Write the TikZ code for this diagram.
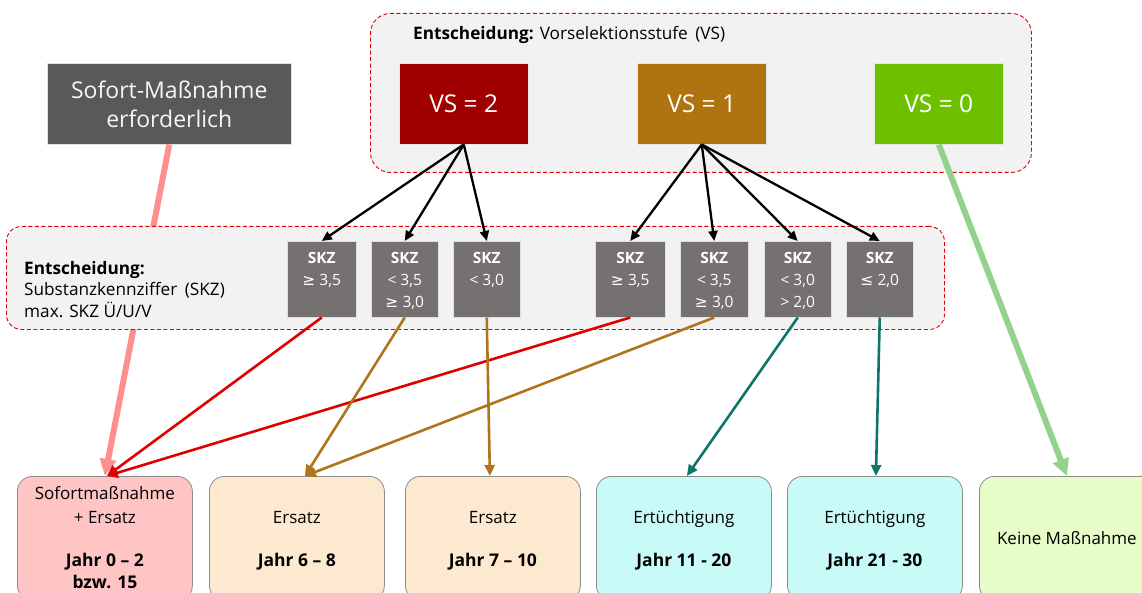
\documentclass[tikz,border=0pt]{standalone}
\usepackage{fontspec}
\setmainfont{Open Sans}
\newfontfamily\symf{DejaVu Sans}
\usetikzlibrary{arrows.meta,calc}
\definecolor{contfill}{HTML}{F2F2F2}
\definecolor{contdash}{HTML}{E00000}
\definecolor{sofgray}{HTML}{595959}
\definecolor{vstwo}{HTML}{A00000}
\definecolor{vsone}{HTML}{AF7310}
\definecolor{vszero}{HTML}{6CC000}
\definecolor{skzgray}{HTML}{767171}
\definecolor{redarr}{HTML}{E00000}
\definecolor{brownarr}{HTML}{B0741A}
\definecolor{tealarr}{HTML}{0E7568}
\definecolor{pinkarr}{HTML}{FF8F8F}
\definecolor{greenarr}{HTML}{92D38C}
\definecolor{bpink}{HTML}{FFC5C5}
\definecolor{bbeige}{HTML}{FCE9CF}
\definecolor{bcyan}{HTML}{C8FAF7}
\definecolor{bgreen}{HTML}{E6FCC9}
\definecolor{bborder}{HTML}{8C8C8C}
\tikzset{
  container/.style={draw=contdash, fill=contfill, dashed, dash pattern=on 4pt off 2.5pt, line width=0.9pt, anchor=north west, inner sep=0pt},
  vsbox/.style={minimum width=129pt, minimum height=81pt, anchor=north west, inner sep=0pt, text=white, font=\fontsize{24.5}{28}\selectfont, draw=white!80!gray, line width=0.5pt},
  skzbox/.style={fill=skzgray, draw=white!75!gray, line width=0.5pt, minimum height=76pt, anchor=north west, inner sep=0pt},
  skztext/.style={text=white, font=\fontsize{15.5}{22}\selectfont, align=center, inner sep=0pt, anchor=north},
  botbox/.style={draw=bborder, line width=0.8pt, rounded corners=15pt, minimum width=175pt, minimum height=124pt, anchor=north west, inner sep=0pt},
  bottext/.style={font=\fontsize{17}{23.5}\selectfont, align=center, inner sep=0pt},
  botbold/.style={font=\bfseries\fontsize{17.5}{22}\selectfont, align=center, inner sep=0pt},
  blackarr/.style={draw=black, line width=2.3pt, -{Triangle[length=10pt,width=9pt]}},
  colarr/.style={line width=2.6pt, -{Triangle[length=11pt,width=10pt]}},
  fatarr/.style={line width=6pt, -{Triangle[length=17pt,width=16pt]}}
}
\begin{document}
\begin{tikzpicture}[x=1pt,y=-1pt]
\useasboundingbox (0,0) rectangle (1142,593);
\clip (0,0) rectangle (1142,593);

% top container
\node[container, rounded corners=20pt, minimum width=661pt, minimum height=159pt] (topc) at (370,13) {};
\node[anchor=base west, inner sep=0pt, font=\fontsize{17.2}{20}\selectfont] (toptitle) at (413,40) {\textbf{Entscheidung:} Vorselektionsstufe\hspace{3pt} (VS)};
\node[vsbox, fill=vstwo] (vs2) at (399,63) {VS = 2};
\node[vsbox, fill=vsone] (vs1) at (637,63) {VS = 1};
\node[vsbox, fill=vszero] (vs0) at (874,63) {VS = 0};

% Sofort box
\node[fill=sofgray, draw=white!75!gray, line width=0.5pt, minimum width=244pt, minimum height=81pt, anchor=north west, inner sep=0pt] (sof) at (47,63) {};
\node[text=white!93!gray, align=center, font=\fontsize{23}{29}\selectfont, inner sep=0pt] (softext) at ($(sof.center)+(0,1)$) {Sofort-Maßnahme\\erforderlich};

% bottom boxes
\node[botbox, fill=bpink] (b1) at (17,476) {};
\node[botbox, fill=bbeige] (b2) at (209,476) {};
\node[botbox, fill=bbeige] (b3) at (405,476) {};
\node[botbox, fill=bcyan] (b4) at (596,476) {};
\node[botbox, fill=bcyan] (b5) at (787,476) {};
\node[botbox, fill=bgreen] (b6) at (979,476) {};

% pink fat line (behind middle container)
\draw[fatarr, draw=pinkarr, fill=pinkarr] (sof.south) -- (b1.north);

% middle container
\node[container, rounded corners=15pt, minimum width=938pt, minimum height=103pt] (midc) at (6,226) {};
\node[anchor=north west, align=left, inner sep=0pt, font=\fontsize{17.2}{21.5}\selectfont] (midtitle) at (24,261) {\textbf{Entscheidung:}\\Substanzkennziffer\hspace{3pt} (SKZ)\\max. SKZ Ü/U/V};

% SKZ boxes
\node[skzbox, minimum width=69pt] (s1) at (287,241) {};
\node[skzbox, minimum width=67pt] (s2) at (371,241) {};
\node[skzbox, minimum width=67pt] (s3) at (453,241) {};
\node[skzbox, minimum width=70pt] (s4) at (595,241) {};
\node[skzbox, minimum width=68pt] (s5) at (680,241) {};
\node[skzbox, minimum width=67pt] (s6) at (764,241) {};
\node[skzbox, minimum width=67pt] (s7) at (846,241) {};
\node[skztext] (t1) at ($(s1.north)+(0,11)$) {\textbf{SKZ}\\{\symf ≥} 3,5};
\node[skztext] (t2) at ($(s2.north)+(0,11)$) {\textbf{SKZ}\\< 3,5\\{\symf ≥} 3,0};
\node[skztext] (t3) at ($(s3.north)+(0,11)$) {\textbf{SKZ}\\< 3,0};
\node[skztext] (t4) at ($(s4.north)+(0,11)$) {\textbf{SKZ}\\{\symf ≥} 3,5};
\node[skztext] (t5) at ($(s5.north)+(0,11)$) {\textbf{SKZ}\\< 3,5\\{\symf ≥} 3,0};
\node[skztext] (t6) at ($(s6.north)+(0,11)$) {\textbf{SKZ}\\< 3,0\\> 2,0};
\node[skztext] (t7) at ($(s7.north)+(0,11)$) {\textbf{SKZ}\\{\symf ≤} 2,0};

% black arrows
\draw[blackarr] (vs2.south) -- (s1.north);
\draw[blackarr] (vs2.south) -- (s2.north);
\draw[blackarr] (vs2.south) -- (s3.north);
\draw[blackarr] (vs1.south) -- (s4.north);
\draw[blackarr] (vs1.south) -- (s5.north);
\draw[blackarr] (vs1.south) -- (s6.north);
\draw[blackarr] (vs1.south) -- (s7.north);

% green fat line
\draw[fatarr, draw=greenarr, fill=greenarr] (vs0.south) -- (b6.north);

% colored arrows
\draw[colarr, draw=redarr, fill=redarr] (s1.south) -- ([xshift=2pt]b1.north);
\draw[colarr, draw=redarr, fill=redarr] (s4.south) -- ([xshift=2pt]b1.north);
\draw[colarr, draw=brownarr, fill=brownarr] (s2.south) -- ([xshift=8pt]b2.north);
\draw[colarr, draw=brownarr, fill=brownarr] (s5.south) -- ([xshift=8pt]b2.north);
\draw[colarr, draw=brownarr, fill=brownarr] (s3.south) -- ([xshift=-3pt]b3.north);
\draw[colarr, draw=tealarr, fill=tealarr] (s6.south) -- ([xshift=3pt]b4.north);
\draw[colarr, draw=tealarr, fill=tealarr] (s7.south) -- ([xshift=1pt]b5.north);

% bottom texts
\node[bottext, anchor=north] (l1a) at ($(b1.north)+(0,10.5)$) {Sofortmaßnahme\\+ Ersatz};
\node[botbold, anchor=north] (l1b) at ($(b1.north)+(0,77)$) {Jahr 0 – 2\\bzw. 15};
\node[bottext, anchor=base] (l2a) at ($(b2.north)+(0,47)$) {Ersatz};
\node[botbold, anchor=base] (l2b) at ($(b2.north)+(0,90)$) {Jahr 6 – 8};
\node[bottext, anchor=base] (l3a) at ($(b3.north)+(0,47)$) {Ersatz};
\node[botbold, anchor=base] (l3b) at ($(b3.north)+(0,90)$) {Jahr 7 – 10};
\node[bottext, anchor=base] (l4a) at ($(b4.north)+(0,47)$) {Ertüchtigung};
\node[botbold, anchor=base] (l4b) at ($(b4.north)+(0,90)$) {Jahr 11 - 20};
\node[bottext, anchor=base] (l5a) at ($(b5.north)+(0,47)$) {Ertüchtigung};
\node[botbold, anchor=base] (l5b) at ($(b5.north)+(0,90)$) {Jahr 21 - 30};
\node[bottext, anchor=base] (l6a) at ($(b6.north)+(0,68)$) {Keine Maßnahme};
\end{tikzpicture}
\end{document}
